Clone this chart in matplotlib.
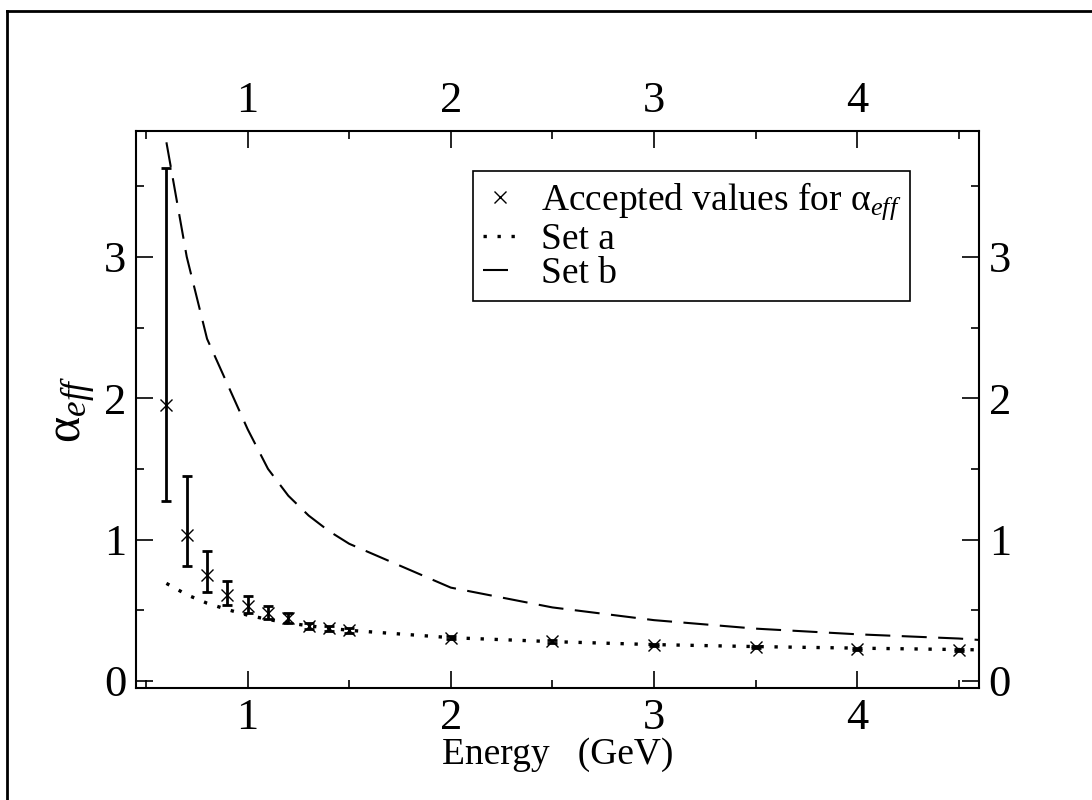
import numpy as np
import matplotlib
matplotlib.use('Agg')
import matplotlib.pyplot as plt
from matplotlib.lines import Line2D
from matplotlib.ticker import MultipleLocator

plt.rcParams['font.family'] = ['Liberation Serif', 'DejaVu Serif']
plt.rcParams['mathtext.fontset'] = 'custom'
plt.rcParams['mathtext.rm'] = 'Liberation Serif'
plt.rcParams['mathtext.it'] = 'Liberation Serif:italic'

# accepted values with error bars
energy = [0.6, 0.7, 0.8, 0.9, 1.0, 1.1, 1.2, 1.3, 1.4, 1.5, 2.0, 2.5, 3.0, 3.5, 4.0, 4.5]
alpha = [1.95, 1.03, 0.75, 0.61, 0.53, 0.48, 0.445, 0.39, 0.372, 0.358, 0.306, 0.28, 0.254, 0.24, 0.229, 0.217]
alpha_lo = [1.27, 0.81, 0.63, 0.54, 0.483, 0.44, 0.41, 0.37, 0.355, 0.342, 0.295, 0.27, 0.245, 0.232, 0.222, 0.21]
alpha_hi = [3.63, 1.45, 0.92, 0.71, 0.60, 0.53, 0.478, 0.41, 0.39, 0.374, 0.318, 0.29, 0.263, 0.248, 0.236, 0.224]

# model curves
energy_set = [0.6, 0.7, 0.8, 0.9, 1.0, 1.1, 1.2, 1.3, 1.4, 1.5, 2.0, 2.5, 3.0, 3.5, 4.0, 4.5, 4.6]
set_a = [0.69, 0.61, 0.55, 0.505, 0.465, 0.435, 0.41, 0.39, 0.373, 0.358, 0.306, 0.278, 0.257, 0.243, 0.232, 0.222, 0.22]
set_b = [3.81, 3.0, 2.42, 2.1, 1.78, 1.5, 1.31, 1.17, 1.06, 0.97, 0.66, 0.52, 0.43, 0.37, 0.33, 0.30, 0.29]


def main():
    fig = plt.figure(figsize=(10.92, 8), dpi=100)
    ax = fig.add_axes([0.1245, 0.14, 0.772, 0.69625])

    y = np.array(alpha)
    yerr = [y - np.array(alpha_lo), np.array(alpha_hi) - y]
    ax.errorbar(energy, alpha, yerr=yerr, fmt='none', ecolor='black',
                elinewidth=2.0, capsize=3.5, capthick=2.0, zorder=3)
    ax.plot(energy, alpha, 'x', color='black', markersize=8, mew=1.0, zorder=4,
            label='Accepted values for $\\mathregular{\\alpha}_{eff}$')
    ax.plot(energy_set, set_a, color='black', lw=2.4, linestyle=(0, (1, 3.2)),
            dash_capstyle='butt', label='Set a')
    ax.plot(energy_set, set_b, color='black', lw=1.5, linestyle=(0, (12, 5.5)),
            label='Set b')

    ax.set_xlim(0.45, 4.6)
    ax.set_ylim(-0.05, 3.89)
    ax.xaxis.set_major_locator(MultipleLocator(1))
    ax.xaxis.set_minor_locator(MultipleLocator(0.5))
    ax.yaxis.set_major_locator(MultipleLocator(1))
    ax.yaxis.set_minor_locator(MultipleLocator(0.5))
    ax.tick_params(which='both', direction='in', top=True, right=True,
                   labeltop=True, labelright=True, width=1.2, labelsize=32, pad=7)
    ax.tick_params(which='major', length=12)
    ax.tick_params(which='minor', length=6)
    for s in ax.spines.values():
        s.set_linewidth(1.5)

    ax.set_xlabel('Energy   (GeV)', fontsize=27, labelpad=0)
    ax.set_ylabel('α$_{eff}$', fontsize=36, labelpad=4)

    leg = ax.legend(loc='upper left', bbox_to_anchor=(0.400, 0.928), borderaxespad=0,
                    fontsize=27, handlelength=0.95, handletextpad=0.6,
                    labelspacing=0.0, borderpad=0.25, fancybox=False, framealpha=1)
    leg.get_frame().set_edgecolor('black')
    leg.get_frame().set_linewidth(1.2)

    # page frame (left and top edges)
    fig.add_artist(Line2D([0.0065, 0.0065], [0, 0.9865], transform=fig.transFigure,
                          color='black', lw=2))
    fig.add_artist(Line2D([0.0065, 1.0], [0.9865, 0.9865], transform=fig.transFigure,
                          color='black', lw=2))

    fig.savefig('out.png', dpi=100)


if __name__ == '__main__':
    main()
